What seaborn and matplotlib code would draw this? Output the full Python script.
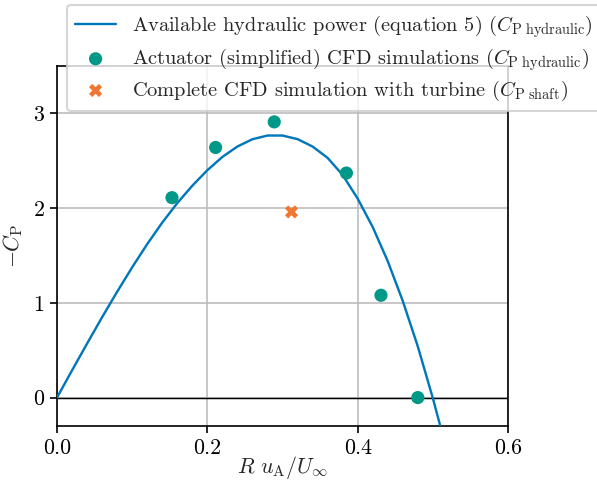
import matplotlib
matplotlib.use("Agg")
import matplotlib.pyplot as plt
import seaborn as sns

# Available hydraulic power curve
curve_x = [0.00, 0.02, 0.04, 0.06, 0.08, 0.10, 0.12, 0.14, 0.16, 0.18,
           0.20, 0.22, 0.24, 0.26, 0.28, 0.30, 0.32, 0.34, 0.36, 0.38,
           0.40, 0.42, 0.44, 0.46, 0.48, 0.50, 0.51]
curve_y = [0.000, 0.287, 0.570, 0.848, 1.117, 1.375, 1.620, 1.847, 2.053, 2.236,
           2.400, 2.540, 2.650, 2.727, 2.766, 2.766, 2.728, 2.650, 2.530, 2.350,
           2.100, 1.800, 1.440, 1.020, 0.540, -0.006, -0.303]

# Actuator (simplified) CFD simulations
act_x = [0.153, 0.211, 0.289, 0.385, 0.431, 0.480]
act_y = [2.11, 2.64, 2.91, 2.37, 1.08, 0.00]

# Complete CFD simulation with turbine
full_x = [0.312]
full_y = [1.96]

x_ticks = [0.0, 0.2, 0.4, 0.6]
y_ticks = [0, 1, 2, 3]

sns.set_style("ticks")
plt.rcParams.update({
    "font.family": ["cmr10", "DejaVu Serif"],
    "mathtext.fontset": "cm",
    "axes.unicode_minus": False,
    "axes.formatter.use_mathtext": True,
    "font.size": 10.5,
})

fig = plt.figure(figsize=(597 / 150, 482 / 150), dpi=150)
ax = fig.add_axes([57 / 597, 1 - 426 / 482, (508 - 57) / 597, (426 - 66) / 482])

ax.grid(True, color="#bdbdc1", linewidth=0.8)
ax.set_axisbelow(True)
ax.axhline(0, color="black", linewidth=0.7, zorder=1.5)

blue = "#0077BB"
teal = "#009988"
orange = "#EE7733"

sns.lineplot(x=curve_x, y=curve_y, ax=ax, color=blue, linewidth=1.15,
             label=r"Available hydraulic power (equation 5) ($C_\mathrm{P\ hydraulic}$)",
             zorder=3, sort=False)
sns.scatterplot(x=act_x, y=act_y, ax=ax, color=teal, s=40, marker="o",
                edgecolor="none",
                label=r"Actuator (simplified) CFD simulations ($C_\mathrm{P\ hydraulic}$)",
                zorder=4)
sns.scatterplot(x=full_x, y=full_y, ax=ax, color=orange, s=40, marker="X",
                edgecolor="none",
                label=r"Complete CFD simulation with turbine ($C_\mathrm{P\ shaft}$)",
                zorder=4)

ax.set_xlim(0, 0.6)
ax.set_ylim(-0.3, 3.5)
ax.set_xticks(x_ticks)
ax.set_xticklabels([f"{v:.1f}" for v in x_ticks])
ax.set_yticks(y_ticks)
ax.set_yticklabels([str(v) for v in y_ticks])
ax.set_xlabel(r"$R\ u_\mathrm{A}/U_\infty$")
ax.xaxis.set_label_coords(0.5, -0.078)
ax.set_ylabel(r"$-C_\mathrm{P}$", labelpad=4)

for s in ax.spines.values():
    s.set_color("black")
    s.set_linewidth(0.8)
ax.tick_params(colors="black", width=0.8, length=3.5, pad=2.5)

ax.legend(loc="upper left", bbox_to_anchor=(67 / 597, 1 - 5 / 482),
          bbox_transform=fig.transFigure, borderaxespad=0, frameon=True,
          fontsize=9.8, labelspacing=0.3)

fig.savefig("out.png", dpi=150)
